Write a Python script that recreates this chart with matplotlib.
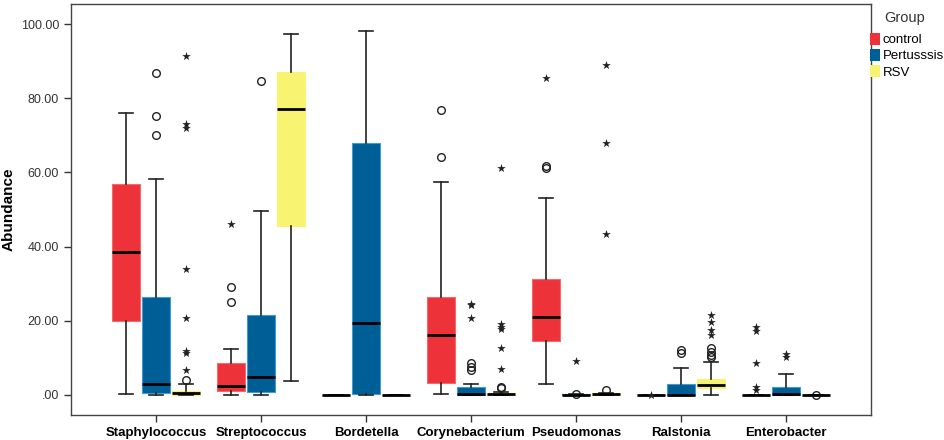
import matplotlib
matplotlib.use('Agg')
from matplotlib import pyplot as plt
from matplotlib.patches import Patch

# Categories and groups.
genera = ['Staphylococcus', 'Streptococcus', 'Bordetella', 'Corynebacterium',
          'Pseudomonas', 'Ralstonia', 'Enterobacter']
groups = ['control', 'Pertusssis', 'RSV']

# Box stats, one list per group (order follows genera).
control_q1 = [19.9, 1.2, 0, 3.1, 14.6, 0, 0]
control_med = [38.6, 2.5, 0, 16.1, 21.1, 0, 0]
control_q3 = [56.9, 8.5, 0, 26.3, 31.4, 0, 0]
control_lo = [0.2, 0, 0, 0.2, 3.0, 0, 0]
control_hi = [75.9, 12.3, 0, 57.5, 53.2, 0, 0]

pert_q1 = [0.5, 0.7, 0.3, 0, 0, 0, 0]
pert_med = [2.9, 4.8, 19.3, 0.3, 0, 0.1, 0.2]
pert_q3 = [26.3, 21.6, 67.9, 2.2, 0.3, 3.0, 2.2]
pert_lo = [0, 0, 0, 0, 0, 0, 0]
pert_hi = [58.2, 49.7, 98.1, 2.9, 0.3, 7.4, 5.7]

rsv_q1 = [0.1, 45.5, 0, 0, 0, 1.8, 0]
rsv_med = [0.5, 77.2, 0, 0.3, 0.3, 2.7, 0]
rsv_q3 = [1.2, 87.2, 0, 0.5, 0.5, 4.3, 0]
rsv_lo = [0, 3.9, 0, 0, 0, 0, 0]
rsv_hi = [3.0, 97.4, 0, 0.8, 0.6, 9.0, 0]

# Outliers (circles) and extremes (stars).
control_out = [[], [29.0, 25.0], [], [76.8, 64.2], [61.8, 61.3], [], []]
pert_out = [[86.9, 75.3, 70.2], [84.7], [], [8.5, 7.6, 6.7], [0.2], [12.1, 11.2], []]
rsv_out = [[4.0], [], [], [2.2, 1.8], [1.3], [12.6, 11.7, 10.8, 10.2], [0.1]]

control_ext = [[], [46.0], [], [], [85.5], [0.1], [18.4, 17.3, 8.7, 2.2, 1.4]]
pert_ext = [[], [], [], [24.6, 24.2, 20.7], [9.2], [], [11.1, 10.2]]
rsv_ext = [[91.5, 73.0, 72.1, 33.9, 20.8, 11.9, 11.4, 6.6], [], [],
           [61.3, 19.0, 18.3, 17.8, 12.7, 6.9], [88.9, 68.0, 43.3],
           [21.6, 19.8, 17.5, 16.2], []]

yticks = [0, 20, 40, 60, 80, 100]
ytick_labels = ['.00', '20.00', '40.00', '60.00', '80.00', '100.00']

fills = ['#EE3239', '#005E97', '#F8F472']
edges = ['#F26A6E', '#3F9BD3', '#F8F472']

stats = [
    (control_q1, control_med, control_q3, control_lo, control_hi, control_out, control_ext),
    (pert_q1, pert_med, pert_q3, pert_lo, pert_hi, pert_out, pert_ext),
    (rsv_q1, rsv_med, rsv_q3, rsv_lo, rsv_hi, rsv_out, rsv_ext),
]

plt.rcParams['font.family'] = ['Liberation Sans', 'DejaVu Sans']

fig = plt.figure(figsize=(9.45, 4.4), dpi=100)
ax = fig.add_axes([0.0751, 0.0568, 0.8466, 0.9341])

offset = 0.285
width = 0.27

for j, (q1, med, q3, lo, hi, out, ext) in enumerate(stats):
    bxp_stats = []
    for i in range(len(genera)):
        bxp_stats.append({'q1': q1[i], 'med': med[i], 'q3': q3[i],
                          'whislo': lo[i], 'whishi': hi[i], 'fliers': out[i]})
    pos = [i + (j - 1) * offset for i in range(len(genera))]
    ax.bxp(bxp_stats, positions=pos, widths=width, patch_artist=True,
           manage_ticks=False,
           boxprops=dict(facecolor=fills[j], edgecolor=edges[j], linewidth=0.8),
           medianprops=dict(color='black', linewidth=2.0, solid_capstyle='butt'),
           whiskerprops=dict(color='#222222', linewidth=1.2),
           capprops=dict(color='#222222', linewidth=1.2),
           flierprops=dict(marker='o', markerfacecolor='none', markeredgecolor='#222222',
                           markersize=5.5, markeredgewidth=1.0))
    # Extreme values as stars
    for i in range(len(genera)):
        if ext[i]:
            ax.scatter([pos[i]] * len(ext[i]), ext[i], marker='*', s=42,
                       color='#222222', linewidths=0, zorder=4)

ax.set_xlim(-0.81, 6.81)
ax.set_ylim(-5.4, 105.4)
ax.set_yticks(yticks)
ax.set_yticklabels(ytick_labels, fontsize=9, color='#333333')
ax.set_xticks(range(len(genera)))
ax.set_xticklabels(genera, fontsize=9.5, fontweight='bold')
ax.tick_params(axis='both', direction='out', length=5, width=1, color='#333333')
ax.set_ylabel('Abundance', fontsize=11, fontweight='bold', labelpad=4)
for s in ax.spines.values():
    s.set_color('#444444')
    s.set_linewidth(1.0)

# Legend title on its own, entries below it
fig.text(0.9577, 0.958, 'Group', ha='center', va='center', fontsize=10.5, color='#333333')
handles = [Patch(facecolor=fills[k], edgecolor='none') for k in range(3)]
leg = fig.legend(handles, groups, loc='upper left', bbox_to_anchor=(0.921, 0.925),
                 frameon=False, fontsize=9.5,
                 handlelength=0.7, handleheight=1.0, handletextpad=0.25,
                 labelspacing=0.2, borderaxespad=0, borderpad=0)

fig.savefig('out.png', dpi=100)
